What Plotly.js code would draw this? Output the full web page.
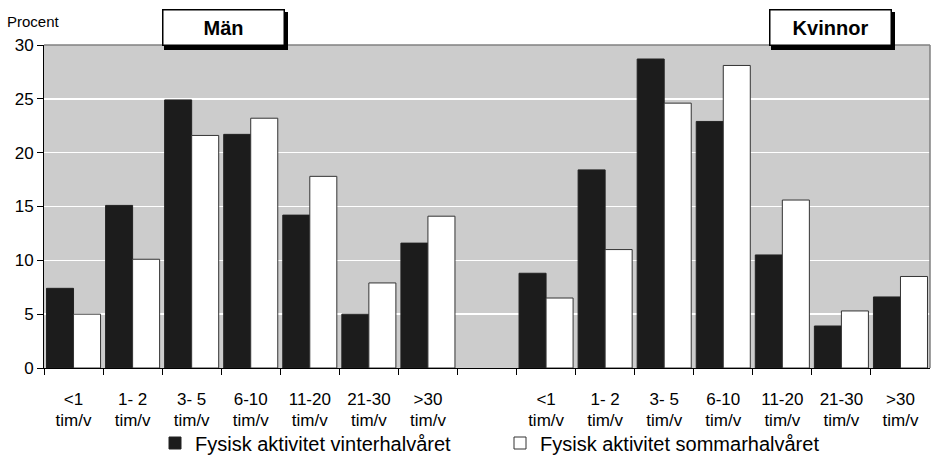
<!DOCTYPE html>
<html>
<head>
<meta charset="utf-8">
<script src="https://cdn.plot.ly/plotly-3.0.1.min.js"></script>
<style>
html,body{margin:0;padding:0;background:#fff;}
#chart{width:935px;height:469px;}
</style>
</head>
<body>
<div id="chart"></div>
<script>
// Data
var categories = ['<1', '1- 2', '3- 5', '6-10', '11-20', '21-30', '>30'];
var unitLabel = 'tim/v';
var menWinter   = [7.4, 15.1, 24.9, 21.7, 14.2, 5.0, 11.6];
var menSummer   = [5.0, 10.1, 21.6, 23.2, 17.8, 7.9, 14.1];
var womenWinter = [8.8, 18.4, 28.7, 22.9, 10.5, 3.9, 6.6];
var womenSummer = [6.5, 11.0, 24.6, 28.1, 15.6, 5.3, 8.5];
var groupLabels = ['Män', 'Kvinnor'];
var seriesNames = ['Fysisk aktivitet vinterhalvåret', 'Fysisk aktivitet sommarhalvåret'];
var yTitle = 'Procent';

// positions: men 0..6, gap 7, women 8..14
var n = categories.length;
var xs = [], tickText = [], unitText = [];
for (var i = 0; i < n; i++) { xs.push(i); tickText.push(categories[i]); unitText.push(unitLabel); }
for (var j = 0; j < n; j++) { xs.push(n + 1 + j); tickText.push(categories[j]); unitText.push(unitLabel); }
var winterY = menWinter.concat(womenWinter);
var summerY = menSummer.concat(womenSummer);
var boundaries = [];
for (var b = -0.5; b <= 2 * n + 0.5 - 1; b += 1) boundaries.push(b);

var font = 'Liberation Sans, Arial, sans-serif';
var xRange = [-0.5, 2 * n + 0.5];

var traces = [
  {type: 'bar', name: seriesNames[0], x: xs, y: winterY,
   marker: {color: '#1c1c1c', line: {color: '#222222', width: 1}}, hoverinfo: 'y'},
  {type: 'bar', name: seriesNames[1], x: xs, y: summerY,
   marker: {color: '#ffffff', line: {color: '#333333', width: 1}}, hoverinfo: 'y'},
  // empty helper trace so the second-line label axis is drawn
  {type: 'scatter', mode: 'none', x: [], y: [], xaxis: 'x2', yaxis: 'y', showlegend: false, hoverinfo: 'skip'}
];

function px2x(p) { return (p - 44) / 886; }
function px2y(p) { return (368 - p) / 323; }

var layout = {
  width: 935, height: 469,
  margin: {l: 44, r: 5, t: 45, b: 101},
  paper_bgcolor: '#ffffff',
  plot_bgcolor: '#cccccc',
  barmode: 'group', bargap: 0.085, bargroupgap: 0,
  font: {family: font, color: '#000000', size: 17},
  showlegend: true,
  legend: {orientation: 'h', x: px2x(155), xanchor: 'left', y: px2y(443), yanchor: 'middle',
           font: {size: 20, family: font, color: '#000'}, entrywidth: 300, entrywidthmode: 'pixels',
           bgcolor: 'rgba(0,0,0,0)', traceorder: 'normal'},
  xaxis: {range: xRange, tickmode: 'array', tickvals: xs, ticktext: tickText,
          ticks: '', showgrid: false, zeroline: false, showline: true, linecolor: '#000', linewidth: 1,
          tickfont: {size: 17, family: font, color: '#000'}, ticklabelstandoff: 16,
          minor: {tickmode: 'array', tickvals: boundaries, ticks: 'outside', ticklen: 6, tickcolor: '#000', tickwidth: 1, showgrid: false},
          fixedrange: true},
  xaxis2: {range: xRange, overlaying: 'x', anchor: 'y', side: 'bottom', tickmode: 'array', tickvals: xs, ticktext: unitText,
           ticks: '', showgrid: false, zeroline: false, showline: false,
           tickfont: {size: 17, family: font, color: '#000'}, ticklabelstandoff: 40, fixedrange: true},
  yaxis: {range: [0, 30], tickmode: 'linear', tick0: 0, dtick: 5, ticks: 'outside', ticklen: 6,
          tickcolor: '#000', tickwidth: 1, showline: true, linecolor: '#000', linewidth: 1,
          showgrid: true, gridcolor: '#ffffff', gridwidth: 1.5, zeroline: false,
          tickfont: {size: 17, family: font, color: '#000'}, fixedrange: true},
  shapes: [
    {type: 'line', xref: 'paper', yref: 'paper', x0: 0, x1: 1, y0: 1, y1: 1, line: {color: '#808080', width: 1.5}},
    {type: 'line', xref: 'paper', yref: 'paper', x0: 1, x1: 1, y0: 0, y1: 1, line: {color: '#808080', width: 1.5}},
    {type: 'rect', xref: 'paper', yref: 'paper', x0: px2x(164), x1: px2x(288), y0: px2y(50), y1: px2y(12),
     fillcolor: '#000', line: {width: 0}},
    {type: 'rect', xref: 'paper', yref: 'paper', x0: px2x(771), x1: px2x(895), y0: px2y(50), y1: px2y(12),
     fillcolor: '#000', line: {width: 0}}
  ],
  annotations: [
    {xref: 'paper', yref: 'paper', x: px2x(5), y: px2y(21), xanchor: 'left', yanchor: 'middle',
     text: yTitle, showarrow: false, font: {size: 15, family: font, color: '#000'}},
    {xref: 'paper', yref: 'paper', x: px2x(223), y: px2y(27.5), xanchor: 'center', yanchor: 'middle',
     text: '<b>' + groupLabels[0] + '</b>', showarrow: false, width: 118, height: 32,
     bgcolor: '#fff', bordercolor: '#000', borderwidth: 1.5, borderpad: 1,
     font: {size: 20, family: font, color: '#000'}},
    {xref: 'paper', yref: 'paper', x: px2x(830), y: px2y(27.5), xanchor: 'center', yanchor: 'middle',
     text: '<b>' + groupLabels[1] + '</b>', showarrow: false, width: 118, height: 32,
     bgcolor: '#fff', bordercolor: '#000', borderwidth: 1.5, borderpad: 1,
     font: {size: 20, family: font, color: '#000'}}
  ]
};

Plotly.newPlot('chart', traces, layout, {displayModeBar: false, staticPlot: true});
</script>
</body>
</html>
